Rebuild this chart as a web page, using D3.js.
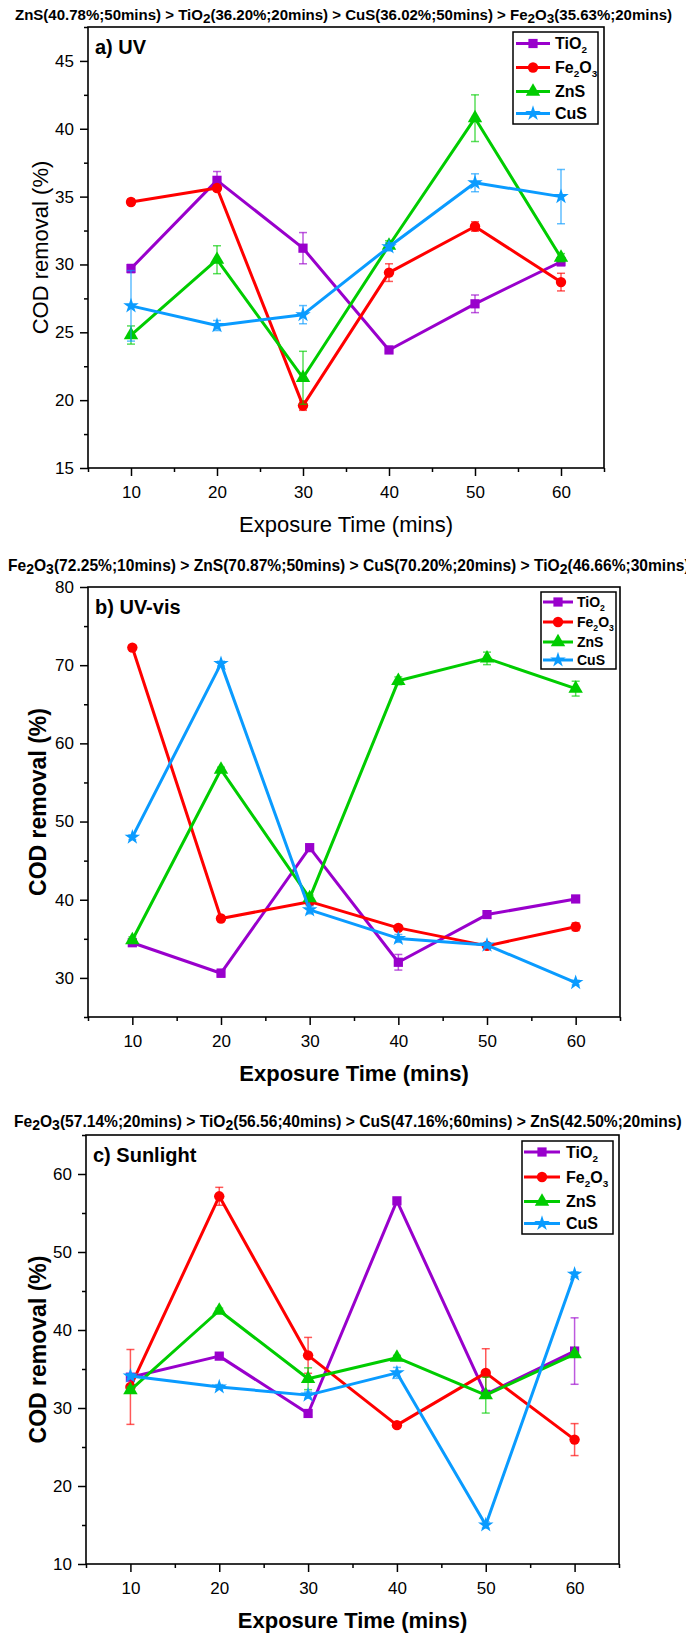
<!DOCTYPE html>
<html>
<head>
<meta charset="utf-8">
<script src="https://cdn.jsdelivr.net/npm/d3@7"></script>
<style>
  html, body { margin: 0; padding: 0; background: #fff; }
  svg { display: block; }
  text { font-family: "Liberation Sans", Arial, Helvetica, sans-serif; }
</style>
</head>
<body>
<svg id="chart" width="686" height="1634"></svg>
<script>
// ---------------- DATA ----------------
const timeMins = [10, 20, 30, 40, 50, 60];
const xTickLabels = [10, 20, 30, 40, 50, 60];
const seriesNames = ["TiO_2", "Fe_2O_3", "ZnS", "CuS"];

// a) UV
const uvTiO2     = [29.7, 36.2, 31.2, 23.7, 27.1, 30.2];
const uvTiO2Err  = [0.3, 0.65, 1.15, 0.25, 0.65, 0.3];
const uvFe2O3    = [34.6, 35.63, 19.6, 29.4, 32.8, 28.7];
const uvFe2O3Err = [0.2, 0.2, 0.35, 0.65, 0.35, 0.65];
const uvZnS      = [24.8, 30.35, 21.65, 31.4, 40.78, 30.5];
const uvZnSErr   = [0.67, 1.03, 1.95, 0.35, 1.72, 0.3];
const uvCuS      = [26.95, 25.5, 26.3, 31.3, 36.02, 35.0];
const uvCuSErr   = [2.6, 0.37, 0.67, 0.3, 0.66, 2.0];
const uvYTicks   = [15, 20, 25, 30, 35, 40, 45];

// b) UV-vis
const visTiO2     = [34.5, 30.6, 46.66, 32.0, 38.1, 40.1];
const visTiO2Err  = [0.4, 0.5, 0.3, 1.0, 0.3, 0.3];
const visFe2O3    = [72.25, 37.6, 39.75, 36.4, 34.1, 36.55];
const visFe2O3Err = [0.3, 0.3, 0.4, 0.3, 0.3, 0.5];
const visZnS      = [34.85, 56.65, 40.2, 68.0, 70.87, 67.0];
const visZnSErr   = [0.4, 0.3, 0.4, 0.5, 0.8, 0.95];
const visCuS      = [48.0, 70.2, 38.7, 35.05, 34.2, 29.4];
const visCuSErr   = [0.3, 0.3, 0.5, 0.5, 0.3, 0.3];
const visYTicks   = [30, 40, 50, 60, 70, 80];

// c) Sunlight
const sunTiO2     = [33.95, 36.65, 29.3, 56.56, 31.75, 37.3];
const sunTiO2Err  = [0.3, 0.3, 0.3, 0.3, 0.4, 4.26];
const sunFe2O3    = [32.7, 57.14, 36.75, 27.8, 34.5, 25.95];
const sunFe2O3Err = [4.8, 1.15, 2.3, 0.3, 3.1, 2.05];
const sunZnS      = [32.3, 42.5, 33.75, 36.45, 31.65, 36.9];
const sunZnSErr   = [0.4, 0.3, 1.4, 0.3, 2.3, 0.3];
const sunCuS      = [34.1, 32.7, 31.65, 34.5, 15.0, 47.16];
const sunCuSErr   = [0.3, 0.3, 0.4, 0.7, 0.4, 0.3];
const sunYTicks   = [10, 20, 30, 40, 50, 60];

const titleA = "ZnS(40.78%;50mins) > TiO_2(36.20%;20mins) > CuS(36.02%;50mins) > Fe_2O_3(35.63%;20mins)";
const titleB = "Fe_2O_3(72.25%;10mins) > ZnS(70.87%;50mins) > CuS(70.20%;20mins) > TiO_2(46.66%;30mins)";
const titleC = "Fe_2O_3(57.14%;20mins) > TiO_2(56.56;40mins) > CuS(47.16%;60mins) > ZnS(42.50%;20mins)";

// ---------------- STYLE ----------------
const colors = ["#9900CC", "#FF0000", "#00CC00", "#0A9BFF"];
const symbols = [d3.symbolSquare, d3.symbolCircle, d3.symbolTriangle, d3.symbolStar];
const symSizes = [85, 85, 90, 75];
const FONT = '"Liberation Sans", Arial, Helvetica, sans-serif';

const svg = d3.select("#chart");

// split "TiO_2" into parts
function parts(str) {
  const out = [];
  let i = 0, buf = "";
  while (i < str.length) {
    if (str[i] === "_" && i + 1 < str.length) {
      if (buf) { out.push({t: buf, sub: false}); buf = ""; }
      out.push({t: str[i + 1], sub: true});
      i += 2;
    } else { buf += str[i]; i++; }
  }
  if (buf) out.push({t: buf, sub: false});
  return out;
}
function richText(sel, str, subScale, subDy) {
  let offset = 0;
  parts(str).forEach(p => {
    const ts = sel.append("tspan").text(p.t);
    if (p.sub) {
      ts.attr("font-size", (subScale * 100) + "%").attr("dy", subDy - offset);
      offset = subDy;
    } else if (offset !== 0) {
      ts.attr("dy", -offset);
      offset = 0;
    }
  });
}

const panels = [
  {
    x0: 88, x1: 604, y0: 27, y1: 468, yDomain: [15, 47.5], yTicks: uvYTicks, yMinorStep: 2.5,
    data: [uvTiO2, uvFe2O3, uvZnS, uvCuS], err: [uvTiO2Err, uvFe2O3Err, uvZnSErr, uvCuSErr],
    label: "a) UV", bold: false, labelSize: 22, ylabelSize: 22, ylabelX: 40,
    title: titleA, titleY: 20, titleFit: [15, 673],
    legend: {x: 513, y: 32, w: 85, h: 92, rows: [43.5, 67.5, 91.5, 113.5], lx0: 516, lx1: 550, tx: 555, fs: 16}
  },
  {
    x0: 88, x1: 620, y0: 587, y1: 1017, yDomain: [25, 80], yTicks: visYTicks, yMinorStep: 5,
    data: [visTiO2, visFe2O3, visZnS, visCuS], err: [visTiO2Err, visFe2O3Err, visZnSErr, visCuSErr],
    label: "b) UV-vis", bold: true, labelSize: 22, ylabelSize: 23, ylabelX: 38,
    title: titleB, titleY: 571, titleFit: null, titleStart: 8,
    legend: {x: 541, y: 592, w: 75, h: 77, rows: [602, 622, 642, 660], lx0: 543, lx1: 573, tx: 577, fs: 14}
  },
  {
    x0: 86, x1: 619, y0: 1135, y1: 1564, yDomain: [10, 65], yTicks: sunYTicks, yMinorStep: 5,
    data: [sunTiO2, sunFe2O3, sunZnS, sunCuS], err: [sunTiO2Err, sunFe2O3Err, sunZnSErr, sunCuSErr],
    label: "c) Sunlight", bold: true, labelSize: 22, ylabelSize: 23, ylabelX: 38,
    title: titleC, titleY: 1127, titleFit: [14, 682],
    legend: {x: 522, y: 1141, w: 91, h: 93, rows: [1152, 1177, 1201.5, 1223.5], lx0: 524, lx1: 560, tx: 566, fs: 16}
  }
];

function drawTitle(p, fitRange, startX, size) {
  const t = svg.append("text")
    .attr("font-weight", "bold")
    .attr("font-size", size)
    .attr("y", p.titleY)
    .attr("fill", "#000");
  richText(t, p.title, 0.9, 3);
  if (fitRange) {
    const w = t.node().getComputedTextLength();
    const target = fitRange[1] - fitRange[0];
    const fs = size * target / w;
    t.attr("font-size", fs).attr("x", fitRange[0]);
    return fs;
  }
  t.attr("x", startX);
  return size;
}

panels.forEach((p, pi) => {
  const g = svg.append("g");
  const x = d3.scaleLinear().domain([5, 65]).range([p.x0, p.x1]);
  const y = d3.scaleLinear().domain(p.yDomain).range([p.y1, p.y0]);

  // axes
  const xMinor = d3.range(5, 65.01, 5).filter(v => v % 10 !== 0);
  g.append("g").attr("transform", `translate(0,${p.y1})`)
    .call(d3.axisBottom(x).tickValues(xMinor).tickSize(4).tickFormat(""))
    .call(s => s.select(".domain").remove())
    .call(s => s.selectAll("text").remove())
    .call(s => s.selectAll("line").attr("stroke-width", 1.5));
  g.append("g").attr("transform", `translate(0,${p.y1})`)
    .call(d3.axisBottom(x).tickValues(xTickLabels).tickSize(8).tickPadding(10).tickFormat(d3.format("d")))
    .call(s => s.select(".domain").remove())
    .call(s => s.selectAll("line").attr("stroke-width", 1.5))
    .call(s => s.selectAll("text").attr("font-size", 17).attr("font-family", FONT).attr("fill", "#000"));

  const yMinor = d3.range(p.yDomain[0], p.yDomain[1] + 0.001, p.yMinorStep).filter(v => !p.yTicks.includes(v));
  g.append("g").attr("transform", `translate(${p.x0},0)`)
    .call(d3.axisLeft(y).tickValues(yMinor).tickSize(4).tickFormat(""))
    .call(s => s.select(".domain").remove())
    .call(s => s.selectAll("text").remove())
    .call(s => s.selectAll("line").attr("stroke-width", 1.5));
  g.append("g").attr("transform", `translate(${p.x0},0)`)
    .call(d3.axisLeft(y).tickValues(p.yTicks).tickSize(8).tickPadding(6).tickFormat(d3.format("d")))
    .call(s => s.select(".domain").remove())
    .call(s => s.selectAll("line").attr("stroke-width", 1.5))
    .call(s => s.selectAll("text").attr("font-size", 17).attr("font-family", FONT).attr("fill", "#000"));

  // clip
  const clipId = "clip" + pi;
  svg.append("clipPath").attr("id", clipId).append("rect")
    .attr("x", p.x0).attr("y", p.y0).attr("width", p.x1 - p.x0).attr("height", p.y1 - p.y0);
  const plot = g.append("g").attr("clip-path", `url(#${clipId})`);

  // series
  p.data.forEach((vals, si) => {
    const errs = p.err[si];
    const c = colors[si];
    const pts = timeMins.map((t, i) => ({t, v: vals[i], e: errs[i]}));
    const eb = plot.append("g").attr("stroke", c).attr("stroke-opacity", 0.65).attr("stroke-width", 1.5);
    pts.forEach(d => {
      const cx = x(d.t), yt = y(d.v + d.e), yb = y(d.v - d.e);
      eb.append("line").attr("x1", cx).attr("x2", cx).attr("y1", yt).attr("y2", yb);
      eb.append("line").attr("x1", cx - 4).attr("x2", cx + 4).attr("y1", yt).attr("y2", yt);
      eb.append("line").attr("x1", cx - 4).attr("x2", cx + 4).attr("y1", yb).attr("y2", yb);
    });
    plot.append("path")
      .datum(pts)
      .attr("fill", "none").attr("stroke", c).attr("stroke-width", 3)
      .attr("stroke-linejoin", "round")
      .attr("d", d3.line().x(d => x(d.t)).y(d => y(d.v)));
    plot.selectAll(null).data(pts).enter().append("path")
      .attr("transform", d => `translate(${x(d.t)},${y(d.v)})`)
      .attr("d", d3.symbol().type(symbols[si]).size(symSizes[si]))
      .attr("fill", c);
  });

  // frame
  g.append("rect").attr("x", p.x0).attr("y", p.y0)
    .attr("width", p.x1 - p.x0).attr("height", p.y1 - p.y0)
    .attr("fill", "none").attr("stroke", "#000").attr("stroke-width", 1.6);

  // panel label
  g.append("text").attr("x", p.x0 + 7).attr("y", p.y0 + 27)
    .attr("font-size", 20).attr("font-weight", "bold").text(p.label);

  // axis titles
  g.append("text")
    .attr("x", (p.x0 + p.x1) / 2).attr("y", p.y1 + 64)
    .attr("text-anchor", "middle")
    .attr("font-size", p.labelSize).attr("font-weight", p.bold ? "bold" : "normal")
    .text("Exposure Time (mins)");
  g.append("text")
    .attr("transform", `translate(${p.ylabelX},${(p.y0 + p.y1) / 2}) rotate(-90)`)
    .attr("text-anchor", "middle").attr("dy", "0.36em")
    .attr("font-size", p.ylabelSize).attr("font-weight", p.bold ? "bold" : "normal")
    .text("COD removal (%)");

  // legend
  const L = p.legend;
  const lg = g.append("g");
  lg.append("rect").attr("x", L.x).attr("y", L.y).attr("width", L.w).attr("height", L.h)
    .attr("fill", "#fff").attr("stroke", "#000").attr("stroke-width", 1.5);
  seriesNames.forEach((n, si) => {
    const ry = L.rows[si];
    lg.append("line").attr("x1", L.lx0).attr("x2", L.lx1).attr("y1", ry).attr("y2", ry)
      .attr("stroke", colors[si]).attr("stroke-width", 3);
    lg.append("path").attr("transform", `translate(${(L.lx0 + L.lx1) / 2},${ry})`)
      .attr("d", d3.symbol().type(symbols[si]).size(symSizes[si])).attr("fill", colors[si]);
    const t = lg.append("text").attr("x", L.tx).attr("y", ry + L.fs * 0.35)
      .attr("font-size", L.fs).attr("font-weight", "bold");
    richText(t, n, 0.62, 4);
  });
});

// titles
const p0 = panels[0], p1 = panels[1], p2 = panels[2];
drawTitle(p0, p0.titleFit, null, 13);
const sharedTitleSize = drawTitle(p2, p2.titleFit, null, 13);
drawTitle(p1, null, p1.titleStart, sharedTitleSize);
</script>
</body>
</html>
